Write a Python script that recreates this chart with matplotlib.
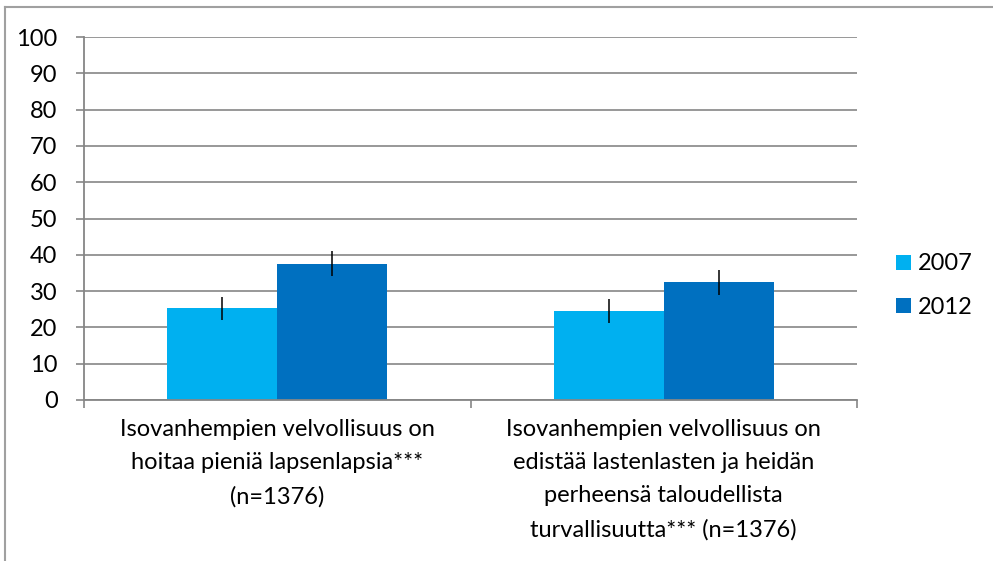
import numpy as np
import matplotlib.pyplot as plt
from matplotlib.lines import Line2D

plt.rcParams['font.family'] = ['Lato', 'DejaVu Sans']

categories = [
    "Isovanhempien velvollisuus on\nhoitaa pieniä lapsenlapsia***\n(n=1376)",
    "Isovanhempien velvollisuus on\nedistää lastenlasten ja heidän\nperheensä taloudellista\nturvallisuutta*** (n=1376)",
]
years = ["2007", "2012"]
values_2007 = [25.3, 24.5]
values_2012 = [37.6, 32.4]
err_2007 = [3.2, 3.2]
err_2012 = [3.5, 3.5]
yticks = list(range(0, 101, 10))

c2007 = "#00B0F0"
c2012 = "#0070C0"
grid_c = "#868686"
fs = 17

W, H = 993, 561
fig = plt.figure(figsize=(W / 100, H / 100), dpi=100)
ax = fig.add_axes([84 / W, 1 - 400 / H, (857 - 84) / W, (400 - 37) / H])

x = np.arange(len(categories))
bw = 0.285
ax.bar(x - bw / 2, values_2007, bw, color=c2007, label=years[0], zorder=2)
ax.bar(x + bw / 2, values_2012, bw, color=c2012, label=years[1], zorder=2)
ax.errorbar(x - bw / 2, values_2007, yerr=err_2007, fmt="none", ecolor="black",
            elinewidth=1.1, capsize=0, zorder=3)
ax.errorbar(x + bw / 2, values_2012, yerr=err_2012, fmt="none", ecolor="black",
            elinewidth=1.1, capsize=0, zorder=3)

ax.set_xlim(-0.5, 1.5)
ax.set_ylim(0, 100)
ax.set_yticks(yticks)
ax.set_yticklabels([str(t) for t in yticks], fontsize=fs)
ax.yaxis.grid(True, color=grid_c, lw=1.2, zorder=0)
ax.set_axisbelow(True)
ax.tick_params(axis="y", length=6, width=1.2, color=grid_c, pad=13)

# category boundary ticks below the x axis
ax.set_xticks([-0.5, 0.5, 1.5])
ax.set_xticklabels([])
ax.tick_params(axis="x", length=6, width=1.2, color=grid_c)
for xi, lab in zip(x, categories):
    ax.text(xi, -5.2, lab, ha="center", va="top", fontsize=fs,
            linespacing=1.72, transform=ax.transData)

for s in ["top", "right"]:
    ax.spines[s].set_visible(False)
for s in ["left", "bottom"]:
    ax.spines[s].set_color(grid_c)
    ax.spines[s].set_linewidth(1.3)

leg = fig.legend(loc="upper left", bbox_to_anchor=(887 / W, 1 - 244 / H),
                 frameon=False, fontsize=fs, handlelength=0.6, handleheight=0.6,
                 handletextpad=0.3, labelspacing=0.95, borderaxespad=0)

# outer chart frame (only left and top edges are in view)
fig.add_artist(Line2D([4.5 / W, 4.5 / W], [0, 1 - 7 / H], color="#A0A0A0", lw=1.5))
fig.add_artist(Line2D([4.5 / W, 1], [1 - 7 / H, 1 - 7 / H], color="#A0A0A0", lw=1.5))

fig.savefig("out.png", dpi=100)
